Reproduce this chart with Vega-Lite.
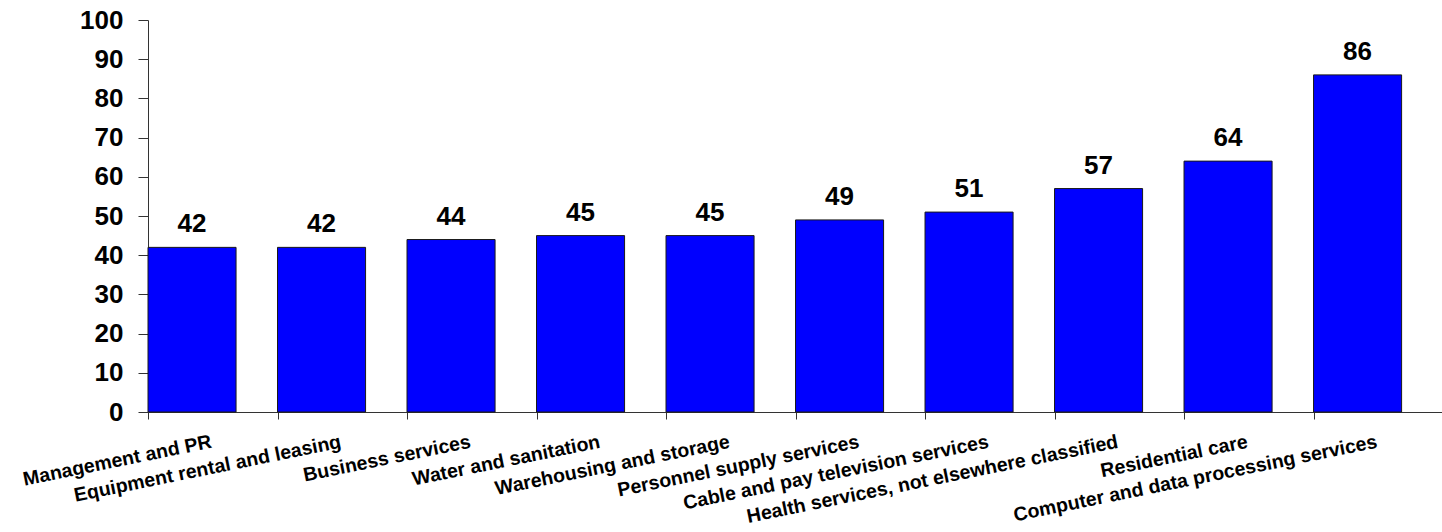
{
  "$schema": "https://vega.github.io/schema/vega-lite/v6.json",
  "autosize": {"type": "none"},
  "padding": {"left": 148, "top": 20, "right": 0, "bottom": 120},
  "width": 1294,
  "height": 392,
  "background": "white",
  "config": {"view": {"stroke": null}, "font": "Liberation Sans"},
  "data": {"values": [
    {"industry": "Management and PR", "value": 42},
    {"industry": "Equipment rental and leasing", "value": 42},
    {"industry": "Business services", "value": 44},
    {"industry": "Water and sanitation", "value": 45},
    {"industry": "Warehousing and storage", "value": 45},
    {"industry": "Personnel supply services", "value": 49},
    {"industry": "Cable and pay television services", "value": 51},
    {"industry": "Health services, not elsewhere classified", "value": 57},
    {"industry": "Residential care", "value": 64},
    {"industry": "Computer and data processing services", "value": 86}
  ]},
  "encoding": {
    "x": {
      "field": "industry", "type": "nominal", "sort": null,
      "scale": {"paddingInner": 0.32, "paddingOuter": 0.156, "align": 0},
      "axis": {
        "title": null, "labelAngle": -11.5, "labelAlign": "right", "labelBaseline": "alphabetic",
        "labelFontSize": 19.5, "labelFontWeight": "bold", "labelColor": "black",
        "labelPadding": 28, "tickSize": 7, "tickOffset": -44, "labelOffset": 64,
        "domainColor": "#333333", "tickColor": "#333333", "labelOverlap": false, "labelLimit": 0
      }
    },
    "y": {
      "field": "value", "type": "quantitative",
      "scale": {"domain": [0, 100], "nice": false},
      "axis": {
        "title": null, "values": [0, 10, 20, 30, 40, 50, 60, 70, 80, 90, 100],
        "grid": false, "tickSize": 10, "labelPadding": 15,
        "labelFontSize": 26, "labelFontWeight": "bold", "labelColor": "black",
        "domainColor": "#333333", "tickColor": "#333333"
      }
    }
  },
  "layer": [
    {"mark": {"type": "bar", "color": "#0000FF", "stroke": "#1a1a1a", "strokeWidth": 1}},
    {"mark": {"type": "text", "baseline": "alphabetic", "dy": -15, "fontSize": 26, "fontWeight": "bold", "color": "black"},
     "encoding": {"text": {"field": "value", "type": "quantitative"}}}
  ]
}
